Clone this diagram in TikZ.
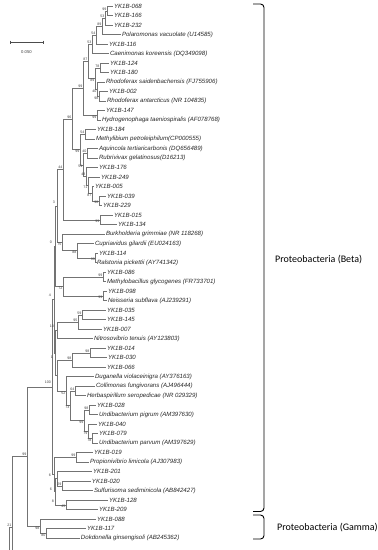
\documentclass[tikz,border=0pt]{standalone}
\usepackage{fontspec}
\setmainfont{Liberation Sans}
\newfontfamily\cladefont{Carlito}
\usetikzlibrary{positioning}

\begin{document}
\begin{tikzpicture}[
    x=1pt,y=-1pt,
    leaf/.style={anchor=west,inner sep=0.8pt,font=\fontsize{6.1}{7}\selectfont\itshape,text=black!85},
    bs/.style={inner sep=0.5pt,font=\fontsize{3.6}{4}\selectfont,text=black!75},
    branch/.style={draw=black!55,line width=0.45pt},
    brace/.style={draw=black,line width=0.9pt,rounded corners=3.5pt},
    clade/.style={anchor=west,inner sep=0pt,font=\cladefont\fontsize{10}{12}\selectfont}
]
\useasboundingbox (0,0) rectangle (378,550);
\clip (0,0) rectangle (378,550);

% leaves
\node[leaf] (t068) at (113,6) {YK1B-068};
\node[leaf] (t166) at (113,15.5) {YK1B-166};
\node[leaf] (t232) at (113,25) {YK1B-232};
\node[leaf] (tPol) at (121,34.5) {Polaromonas vacuolate (U14585)};
\node[leaf] (t116) at (108,44) {YK1B-116};
\node[leaf] (tCae) at (109,53.5) {Caenimonas koreensis (DQ349098)};
\node[leaf] (t124) at (109,63) {YK1B-124};
\node[leaf] (t180) at (109,72.5) {YK1B-180};
\node[leaf] (tRsa) at (105,82) {Rhodoferax saidenbachensis (FJ755906)};
\node[leaf] (t002) at (108,91.5) {YK1B-002};
\node[leaf] (tRan) at (106,101) {Rhodoferax antarcticus (NR 104835)};
\node[leaf] (t147) at (105,110.5) {YK1B-147};
\node[leaf] (tHyd) at (101,120) {Hydrogenophaga taeniospiralis (AF078768)};
\node[leaf] (t184) at (96,129.5) {YK1B-184};
\node[leaf] (tMet) at (95,139) {Methylibium petroleiphilum(CP000555)};
\node[leaf] (tAqu) at (98,148.5) {Aquincola tertiaricarbonis (DQ656489)};
\node[leaf] (tRub) at (98,158) {Rubrivivax gelatinosus(D16213)};
\node[leaf] (t176) at (98,167.5) {YK1B-176};
\node[leaf] (t249) at (100,177) {YK1B-249};
\node[leaf] (t005) at (94,186.5) {YK1B-005};
\node[leaf] (t039) at (106,196) {YK1B-039};
\node[leaf] (t229) at (102,205.5) {YK1B-229};
\node[leaf] (t015) at (113,215) {YK1B-015};
\node[leaf] (t134) at (117,224.5) {YK1B-134};
\node[leaf] (tBur) at (105,234) {Burkholderia grimmiae (NR 118268)};
\node[leaf] (tCup) at (94,243.5) {Cupriavidus gilardii (EU024163)};
\node[leaf] (t114) at (98,253) {YK1B-114};
\node[leaf] (tRal) at (96,262.5) {Ralstonia pickettii (AY741342)};
\node[leaf] (t086) at (106,272) {YK1B-086};
\node[leaf] (tMgl) at (106,281.5) {Methylobacillus glycogenes (FR733701)};
\node[leaf] (t098) at (107,291) {YK1B-098};
\node[leaf] (tNei) at (107,300.5) {Neisseria subflava (AJ239291)};
\node[leaf] (t035) at (106,310) {YK1B-035};
\node[leaf] (t145) at (106,319.5) {YK1B-145};
\node[leaf] (t007) at (102,329) {YK1B-007};
\node[leaf] (tNit) at (93,338.5) {Nitrosovibrio tenuis (AY123803)};
\node[leaf] (t014) at (106,348) {YK1B-014};
\node[leaf] (t030) at (107,357.5) {YK1B-030};
\node[leaf] (t066) at (106,367) {YK1B-066};
\node[leaf] (tDug) at (94,376.5) {Duganella violaceinigra (AY376163)};
\node[leaf] (tCol) at (95,386) {Collimonas fungivorans (AJ496444)};
\node[leaf] (tHer) at (86,395.5) {Herbaspirillum seropedicae (NR 029329)};
\node[leaf] (t028) at (96,405) {YK1B-028};
\node[leaf] (tUpi) at (98,414.5) {Undibacterium pigrum (AM397630)};
\node[leaf] (t040) at (97,424) {YK1B-040};
\node[leaf] (t079) at (98,433.5) {YK1B-079};
\node[leaf] (tUpa) at (98,443) {Undibacterium parvum (AM397629)};
\node[leaf] (t019) at (93,452.5) {YK1B-019};
\node[leaf] (tPro) at (89,462) {Propionivibrio limicola (AJ307983)};
\node[leaf] (t201) at (92,471.5) {YK1B-201};
\node[leaf] (t020) at (91,481) {YK1B-020};
\node[leaf] (tSul) at (93,490.5) {Sulfurisoma sediminicola (AB842427)};
\node[leaf] (t128) at (108,500) {YK1B-128};
\node[leaf] (t209) at (98,509.5) {YK1B-209};
\node[leaf] (t088) at (96,519) {YK1B-088};
\node[leaf] (t117) at (86,528.5) {YK1B-117};
\node[leaf] (tDok) at (80,538) {Dokdonella ginsengisoli (AB245362)};

% internal nodes
\coordinate (nA) at (107,10.75);
\coordinate (nB) at (105,17.9);
\coordinate (nC) at (102,26.2);
\coordinate (nD) at (96,35.1);
\coordinate (nE) at (92,44.3);
\coordinate (nR1) at (100,67.75);
\coordinate (nR2) at (99,96.25);
\coordinate (nR3) at (97,89.1);
\coordinate (nR4) at (95,78.4);
\coordinate (nF) at (88,61.4);
\coordinate (nS) at (97,115.25);
\coordinate (nH) at (83,88.3);
\coordinate (nM1) at (85,134.25);
\coordinate (nM2) at (87,153.25);
\coordinate (nQ1) at (99,200.75);
\coordinate (nQ2) at (92,193.6);
\coordinate (nQ3) at (88,185.3);
\coordinate (nQ4) at (86,176.4);
\coordinate (nM3) at (83,164.8);
\coordinate (nM4) at (80,149.5);
\coordinate (nI) at (72,118.9);
\coordinate (nK) at (100,219.75);
\coordinate (nJ) at (63,169.3);
\coordinate (nN2) at (95.5,257.75);
\coordinate (nN1) at (77,250.6);
\coordinate (nN) at (62,242.3);
\coordinate (nL) at (57,205.8);
\coordinate (nT1) at (103,276.75);
\coordinate (nT2) at (103,295.75);
\coordinate (nT) at (63,286.25);
\coordinate (nO) at (55,246);
\coordinate (nU1) at (82,314.75);
\coordinate (nU2) at (78,321.9);
\coordinate (nU) at (57,330.2);
\coordinate (nV1) at (90,352.75);
\coordinate (nV) at (72,359.9);
\coordinate (nW1) at (75,390.75);
\coordinate (nW2) at (89,409.75);
\coordinate (nW3) at (92,438.25);
\coordinate (nW4) at (88,431.1);
\coordinate (nW5) at (84,420.4);
\coordinate (nW6) at (70,405.6);
\coordinate (nW7) at (66,391);
\coordinate (nX) at (57,375.5);
\coordinate (nUX) at (55.5,352.9);
\coordinate (nBt) at (54,299.45);
\coordinate (nBB1) at (76,457.25);
\coordinate (nBB4) at (62,485.75);
\coordinate (nBB5) at (66,504.75);
\coordinate (nBB2) at (57,478.6);
\coordinate (nBB3) at (55,491.7);
\coordinate (nBb) at (54,474.5);
\coordinate (nBeta) at (52,387);
\coordinate (nG2) at (46,533.25);
\coordinate (nG1) at (40,526.1);
\coordinate (nZ) at (27,456.5);
\coordinate (nY) at (12,527);
\coordinate (cutA) at (30,598);
\coordinate (nRoot) at (9,640);

% branches
\draw[branch] (nA) |- (t068.west) (nA) |- (t166.west);
\draw[branch] (nB) |- (nA) (nB) |- (t232.west);
\draw[branch] (nC) |- (nB) (nC) |- (tPol.west);
\draw[branch] (nD) |- (nC) (nD) |- (t116.west);
\draw[branch] (nE) |- (nD) (nE) |- (tCae.west);
\draw[branch] (nR1) |- (t124.west) (nR1) |- (t180.west);
\draw[branch] (nR2) |- (t002.west) (nR2) |- (tRan.west);
\draw[branch] (nR3) |- (tRsa.west) (nR3) |- (nR2);
\draw[branch] (nR4) |- (nR1) (nR4) |- (nR3);
\draw[branch] (nF) |- (nE) (nF) |- (nR4);
\draw[branch] (nS) |- (t147.west) (nS) |- (tHyd.west);
\draw[branch] (nH) |- (nF) (nH) |- (nS);
\draw[branch] (nM1) |- (t184.west) (nM1) |- (tMet.west);
\draw[branch] (nM2) |- (tAqu.west) (nM2) |- (tRub.west);
\draw[branch] (nQ1) |- (t039.west) (nQ1) |- (t229.west);
\draw[branch] (nQ2) |- (t005.west) (nQ2) |- (nQ1);
\draw[branch] (nQ3) |- (t249.west) (nQ3) |- (nQ2);
\draw[branch] (nQ4) |- (t176.west) (nQ4) |- (nQ3);
\draw[branch] (nM3) |- (nM2) (nM3) |- (nQ4);
\draw[branch] (nM4) |- (nM1) (nM4) |- (nM3);
\draw[branch] (nI) |- (nH) (nI) |- (nM4);
\draw[branch] (nK) |- (t015.west) (nK) |- (t134.west);
\draw[branch] (nJ) |- (nI) (nJ) |- (nK);
\draw[branch] (nN2) |- (t114.west) (nN2) |- (tRal.west);
\draw[branch] (nN1) |- (tCup.west) (nN1) |- (nN2);
\draw[branch] (nN) |- (tBur.west) (nN) |- (nN1);
\draw[branch] (nL) |- (nJ) (nL) |- (nN);
\draw[branch] (nT1) |- (t086.west) (nT1) |- (tMgl.west);
\draw[branch] (nT2) |- (t098.west) (nT2) |- (tNei.west);
\draw[branch] (nT) |- (nT1) (nT) |- (nT2);
\draw[branch] (nO) |- (nL) (nO) |- (nT);
\draw[branch] (nU1) |- (t035.west) (nU1) |- (t145.west);
\draw[branch] (nU2) |- (nU1) (nU2) |- (t007.west);
\draw[branch] (nU) |- (nU2) (nU) |- (tNit.west);
\draw[branch] (nV1) |- (t014.west) (nV1) |- (t030.west);
\draw[branch] (nV) |- (nV1) (nV) |- (t066.west);
\draw[branch] (nW1) |- (tCol.west) (nW1) |- (tHer.west);
\draw[branch] (nW2) |- (t028.west) (nW2) |- (tUpi.west);
\draw[branch] (nW3) |- (t079.west) (nW3) |- (tUpa.west);
\draw[branch] (nW4) |- (t040.west) (nW4) |- (nW3);
\draw[branch] (nW5) |- (nW2) (nW5) |- (nW4);
\draw[branch] (nW6) |- (nW1) (nW6) |- (nW5);
\draw[branch] (nW7) |- (tDug.west) (nW7) |- (nW6);
\draw[branch] (nX) |- (nV) (nX) |- (nW7);
\draw[branch] (nUX) |- (nU) (nUX) |- (nX);
\draw[branch] (nBt) |- (nO) (nBt) |- (nUX);
\draw[branch] (nBB1) |- (t019.west) (nBB1) |- (tPro.west);
\draw[branch] (nBB4) |- (t020.west) (nBB4) |- (tSul.west);
\draw[branch] (nBB5) |- (t128.west) (nBB5) |- (t209.west);
\draw[branch] (nBB2) |- (t201.west) (nBB2) |- (nBB4);
\draw[branch] (nBB3) |- (nBB2) (nBB3) |- (nBB5);
\draw[branch] (nBb) |- (nBB1) (nBb) |- (nBB3);
\draw[branch] (nBeta) |- (nBt) (nBeta) |- (nBb);
\draw[branch] (nG2) |- (t117.west) (nG2) |- (tDok.west);
\draw[branch] (nG1) |- (t088.west) (nG1) |- (nG2);
\draw[branch] (nZ) |- (nBeta) (nZ) |- (nG1);
\draw[branch] (nY) |- (nZ) (nY) |- (cutA);
\draw[branch] (nRoot) |- (nY);

% bootstrap values
\node[bs,above left] (bA) at (nA) {99};
\node[bs,above left] (bB) at (nB) {53};
\node[bs,above left] (bC) at (nC) {89};
\node[bs,above left] (bD) at (nD) {54};
\node[bs,above left] (bE) at (nE) {53};
\node[bs,above left] (bR1) at (nR1) {78};
\node[bs,below left] (bR2) at (nR2) {98};
\node[bs,below left] (bR3) at (nR3) {40};
\node[bs,below left] (bR4) at (nR4) {89};
\node[bs,above left] (bF) at (nF) {87};
\node[bs,below left] (bS) at (nS) {99};
\node[bs,above left] (bH) at (nH) {99};
\node[bs,above left] (bM1) at (nM1) {54};
\node[bs,above left] (bM2) at (nM2) {40};
\node[bs,below left] (bQ1) at (nQ1) {98};
\node[bs,below left] (bQ2) at (nQ2) {87};
\node[bs,below left] (bQ3) at (nQ3) {71};
\node[bs,above left] (bQ4) at (nQ4) {48};
\node[bs,below left] (bM3) at (nM3) {51};
\node[bs,below left] (bM4) at (nM4) {99};
\node[bs,above left] (bI) at (nI) {96};
\node[bs,below left] (bK) at (nK) {99};
\node[bs,above left] (bJ) at (nJ) {44};
\node[bs,below left] (bN2) at (nN2) {99};
\node[bs,below left] (bN1) at (nN1) {88};
\node[bs,below left] (bN) at (nN) {75};
\node[bs,above left] (bT1) at (nT1) {99};
\node[bs,below left] (bT2) at (nT2) {99};
\node[bs,below left] (bT) at (nT) {72};
\node[bs,above left] (bU1) at (nU1) {59};
\node[bs,above left] (bU2) at (nU2) {95};
\node[bs,above left] (bV1) at (nV1) {98};
\node[bs,above left] (bV) at (nV) {98};
\node[bs,above left] (bW1) at (nW1) {64};
\node[bs,above left] (bW2) at (nW2) {98};
\node[bs,below left] (bW3) at (nW3) {78};
\node[bs,below left] (bW4) at (nW4) {79};
\node[bs,below left] (bW5) at (nW5) {99};
\node[bs,below left] (bW6) at (nW6) {73};
\node[bs,below left] (bW7) at (nW7) {52};
\node[bs,above left] (bBB1) at (nBB1) {99};
\node[bs,above left] (bBB4) at (nBB4) {29};
\node[bs,below left] (bBB5) at (nBB5) {45};
\node[bs,below left] (bG2) at (nG2) {80};
\node[bs,below left] (bG1) at (nG1) {98};
\node[bs,above left] (bZ) at (nZ) {99};
\node[bs,above left] (bY) at (nY) {21};
% crowded backbone
\node[bs] (bL) at (54,202) {3};
\node[bs] (bO) at (51,242) {0};
\node[bs] (bBt) at (50,295) {4};
\node[bs] (bU) at (52,326) {10};
\node[bs] (bUX) at (52,357) {1};
\node[bs] (bBeta) at (48,382) {100};
\node[bs] (bBb) at (50,475) {6};
\node[bs] (bBB2) at (51,489) {6};
\node[bs] (bBB3) at (53,501) {8};

% scale bar
\draw[branch,draw=black!70] (10,40.5) -- (10,43.5) (10,42) -- (43,42) (43,40.5) -- (43,43.5);
\node[bs,font=\fontsize{4.2}{5}\selectfont] (scale) at (26.5,52) {0.050};

% clades
\draw[brace] (253,4) -- (264,4) -- (264,511.5) -- (253,511.5);
\draw[brace] (253,515) -- (264,515) -- (264,539) -- (253,539);
\node[clade] (beta) at (275,260) {Proteobacteria (Beta)};
\node[clade] (gamma) at (277,528) {Proteobacteria (Gamma)};
\end{tikzpicture}
\end{document}
